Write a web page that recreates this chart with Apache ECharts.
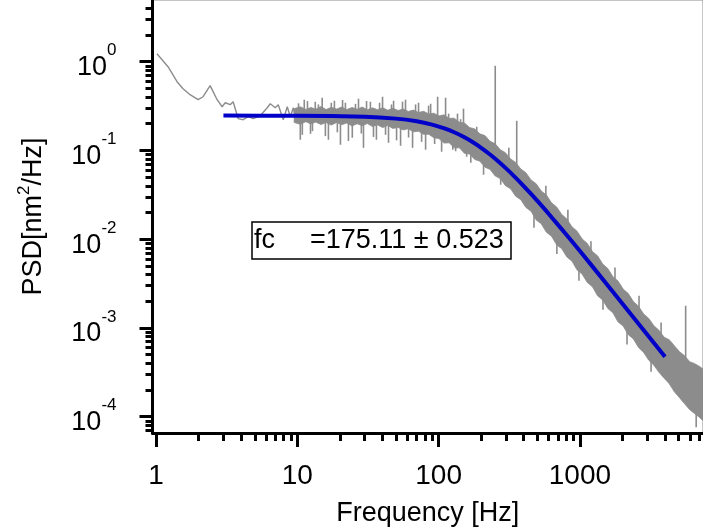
<!DOCTYPE html>
<html>
<head>
<meta charset="utf-8">
<script src="https://cdn.jsdelivr.net/npm/echarts@6/dist/echarts.min.js"></script>
<style>
html,body{margin:0;padding:0;background:#fff;}
#chart{width:703px;height:532px;}
</style>
</head>
<body>
<div id="chart"></div>
<script>
// ---- axis ranges & ticks ----
const X_MIN = 0.9445, X_MAX = 7430;
const Y_MIN = 6.55e-5, Y_MAX = 4.958;
const xMajorTicks = [1, 10, 100, 1000];
const xTickLabels = ['1', '10', '100', '1000'];
const xMinorTicks = [2,3,4,5,6,7,8,9,20,30,40,50,60,70,80,90,200,300,400,500,600,700,800,900,2000,3000,4000,5000,6000,7000];
const yMajorTicks = [1e-4, 1e-3, 1e-2, 1e-1, 1];
const yTickExps = ['-4', '-3', '-2', '-1', '0'];
const yMinorTicks = [7e-5,8e-5,9e-5,2e-4,3e-4,4e-4,5e-4,6e-4,7e-4,8e-4,9e-4,2e-3,3e-3,4e-3,5e-3,6e-3,7e-3,8e-3,9e-3,0.02,0.03,0.04,0.05,0.06,0.07,0.08,0.09,0.2,0.3,0.4,0.5,0.6,0.7,0.8,0.9,2,3,4];

// ---- measured PSD: low-frequency trace ----
const lowFreq = [1.016,1.216,1.409,1.554,1.742,1.986,2.154,2.415,2.495,2.707,2.938,3.087,3.349,3.516,3.816,4.14,4.49,4.875,5.465,6.125,6.435,6.98,7.33,7.96,8.49,8.92,9.37,9.6];
const lowPsd  = [1.23,0.878,0.595,0.496,0.425,0.373,0.403,0.537,0.484,0.373,0.311,0.345,0.328,0.354,0.228,0.222,0.240,0.228,0.246,0.303,0.336,0.303,0.328,0.222,0.311,0.240,0.303,0.25];

// ---- measured PSD: dense noise band (upper / lower envelope) ----
const bandFreq = [9.5,10.5,11.5,12.5,13.5,14.7,16,17.4,19,20.6,22.4,24.4,26.5,28.8,31.3,34,37,40.2,43.7,47.5,51.6,56.1,61,66.3,72,78.3,85.1,92.5,100.5,
  109.2,118.7,129,140.2,152.4,165.7,180.1,195.8,212.8,231.3,251.4,273.3,297,322.9,351,381.5,
  414.7,450.8,490,532.6,579,629.4,684.1,743.6,808.3,878.6,955,1038,1128,1226,1333,1449,1575,1712,1861,2023,2199,2390,2598,2824,3070,3337,3627,3943,
  4286,4658,5064,5504,5983,6503,7069,7430];
const bandUpper = [0.296,0.310,0.290,0.305,0.292,0.312,0.289,0.306,0.293,0.309,0.289,0.305,0.292,0.308,0.287,0.302,0.288,0.303,0.284,0.299,0.282,0.293,0.275,0.285,0.268,0.276,0.258,0.263,0.245,
  0.252,0.230,0.231,0.208,0.204,0.181,0.175,0.154,0.147,0.127,0.119,0.102,0.0943,0.0803,0.0733,0.0619,
  0.0561,0.0466,0.0422,0.0349,0.0315,0.0257,0.0231,0.0190,0.0169,0.01378,0.01229,0.01005,0.00895,0.00726,0.00649,0.00526,0.00467,0.00378,0.00338,0.00274,0.00244,0.00198,0.00176,0.00144,0.00128,0.00106,0.000941,0.000787,
  0.000737,0.000631,0.000540,0.000487,0.000417,0.000395,0.000366,0.000345];
const bandLower = [0.207,0.197,0.211,0.199,0.209,0.196,0.206,0.193,0.207,0.195,0.204,0.189,0.200,0.190,0.201,0.186,0.194,0.181,0.191,0.177,0.182,0.170,0.176,0.162,0.165,0.152,0.152,0.139,0.136,
  0.121,0.122,0.107,0.107,0.0927,0.0912,0.0792,0.0758,0.0648,0.0612,0.0516,0.0482,0.0401,0.0370,0.0305,0.0279,
  0.0228,0.0207,0.0165,0.0149,0.0120,0.0108,0.00866,0.00779,0.00631,0.00566,0.00450,0.00403,0.00325,0.00291,0.00230,0.00206,0.00166,0.00148,0.00117,0.00105,0.00084,0.000752,0.000603,0.000530,0.000433,0.000380,0.000316,0.000272,
  0.000235,0.000191,0.000164,0.000140,0.000120,0.000108,0.0000975,0.0000900];

// ---- measured PSD: individual noise spikes (freq, low, high) ----
const spikeFreq = [10.2,10.5,10.85,11.2,11.8,12.4,12.8,13.4,14.1,15.0,15.8,16.6,17.4,18.3,19.2,20.2,20.9,21.9,23.0,24.5,25.8,27.1,28.4,29.4,30.9,32.9,34.6,36.3,38.2,40.1,42.1,44.2,46.4,48.0,50.4,53.8,55.5,58.3,61.3,65.4,68.7,72.1,75.8,80.9,84.9,87.8,93.7,98.4,105,112,117.7,126,132,136,143,150,158,169,186,208,251.6,275,314,357,394,473,574,687,822,984,1197,1456,1771,2154,2620,3188,3753,5600,6649];
const spikeLow  = [0.245,0.132,0.150,0.25,0.245,0.154,0.165,0.24,0.245,0.24,0.145,0.132,0.244,0.24,0.160,0.116,0.243,0.24,0.128,0.139,0.242,0.24,0.155,0.107,0.240,0.24,0.142,0.132,0.236,0.235,0.150,0.122,0.231,0.23,0.130,0.113,0.225,0.223,0.140,0.107,0.214,0.211,0.125,0.102,0.200,0.197,0.118,0.188,0.0968,0.175,0.170,0.102,0.098,0.154,0.148,0.1425,0.085,0.0728,0.116,0.0533,0.080,0.0411,0.0593,0.048,0.0279,0.0135,0.021,0.0068,0.0107,0.0034,0.0051,0.0016,0.00239,0.00065,0.0011,0.00032,0.00053,0.00045,0.000076];
const spikeHigh = [0.340,0.25,0.246,0.373,0.360,0.25,0.246,0.354,0.330,0.393,0.245,0.24,0.345,0.363,0.244,0.24,0.370,0.345,0.243,0.24,0.335,0.383,0.241,0.24,0.360,0.354,0.238,0.24,0.345,0.403,0.233,0.232,0.330,0.363,0.228,0.226,0.355,0.373,0.220,0.217,0.330,0.345,0.208,0.203,0.320,0.336,0.192,0.403,0.181,0.393,0.260,0.163,0.157,0.260,0.225,0.296,0.136,0.128,0.185,0.101,0.90,0.0712,0.107,0.216,0.041,0.0299,0.040,0.0151,0.0215,0.0075,0.0095,0.00352,0.0048,0.00162,0.0023,0.00074,0.00115,0.00178,0.00012];

// ---- Lorentzian fit ----
const fitFreq = [3,10,30,50,70,90,110,130,150,175,200,230,260,300,350,400,500,600,800,1000,1500,2000,3000,4000];
const fitPsd  = [0.247,0.2462,0.2400,0.2284,0.2130,0.1954,0.1771,0.1592,0.1425,0.1236,0.1072,0.09064,0.07707,0.06277,0.04945,0.03972,0.02699,0.01939,0.01129,0.007348,0.003321,0.001879,0.0008387,0.0004725];

const fitLabel = 'fc';
const fitValueText = '=175.11 ± 0.523';

const FONT = "'Liberation Sans', Arial, Helvetica, sans-serif";
const GRAY = '#8c8c8c';

function idxOf(arr, v) {
  let best = 0, bd = Infinity;
  arr.forEach((t, i) => { const d = Math.abs(Math.log10(t) - Math.log10(v)); if (d < bd) { bd = d; best = i; } });
  return best;
}

const chart = echarts.init(document.getElementById('chart'), null, {renderer: 'canvas'});

const option = {
  animation: false,
  backgroundColor: '#ffffff',
  title: {
    text: '{a|' + fitLabel + '}{b|' + fitValueText + '}',
    left: 252, top: 222,
    padding: [2, 8, 2, 2],
    borderColor: '#000', borderWidth: 1.5,
    textStyle: {
      fontSize: 27, fontWeight: 'normal', color: '#000', fontFamily: FONT, lineHeight: 33,
      rich: {
        a: {fontSize: 27, width: 56, color: '#000', fontFamily: FONT, lineHeight: 33},
        b: {fontSize: 27, color: '#000', fontFamily: FONT, lineHeight: 33}
      }
    }
  },
  grid: {left: 152.5, right: 0, top: 0, bottom: 99, show: true, borderColor: '#8c8c8c', borderWidth: 1, containLabel: false, outerBoundsMode: 'none'},
  xAxis: [
    {
      type: 'log', logBase: 10, min: X_MIN, max: X_MAX, position: 'bottom',
      axisLine: {show: true, onZero: false, lineStyle: {color: '#000', width: 3}},
      axisTick: {show: true, length: 14, lineStyle: {color: '#000', width: 3}, customValues: xMajorTicks},
      axisLabel: {show: true, customValues: xMajorTicks, formatter: v => xTickLabels[idxOf(xMajorTicks, v)], fontSize: 28, color: '#000', fontFamily: FONT, margin: 29},
      splitLine: {show: false}, minorTick: {show: false},
      name: 'Frequency [Hz]', nameLocation: 'middle', nameGap: 67,
      nameTextStyle: {fontSize: 27, color: '#000', fontFamily: FONT}
    },
    {
      type: 'log', logBase: 10, min: X_MIN, max: X_MAX, position: 'bottom',
      axisLine: {show: false},
      axisTick: {show: true, length: 8, lineStyle: {color: '#000', width: 3}, customValues: xMinorTicks},
      axisLabel: {show: false}, splitLine: {show: false}
    }
  ],
  yAxis: [
    {
      type: 'log', logBase: 10, min: Y_MIN, max: Y_MAX, position: 'left',
      axisLine: {show: true, onZero: false, lineStyle: {color: '#000', width: 3}},
      axisTick: {show: true, length: 13, lineStyle: {color: '#000', width: 3}, customValues: yMajorTicks},
      axisLabel: {
        show: true, customValues: yMajorTicks, margin: 36,
        formatter: v => '{b|10}{s|' + yTickExps[idxOf(yMajorTicks, v)] + '}',
        rich: {
          b: {fontSize: 27, color: '#000', fontFamily: FONT, lineHeight: 39, verticalAlign: 'bottom', padding: [3, 0, 0, 0]},
          s: {fontSize: 17, color: '#000', fontFamily: FONT, lineHeight: 17, verticalAlign: 'bottom', padding: [0, 0, 22, 0]}
        }
      },
      splitLine: {show: false}, minorTick: {show: false},
      name: 'PSD[nm{s|2}/Hz]', nameLocation: 'middle', nameGap: 100,
      nameTextStyle: {
        fontSize: 27, color: '#000', fontFamily: FONT, lineHeight: 37, verticalAlign: 'bottom',
        rich: {s: {fontSize: 17, color: '#000', fontFamily: FONT, lineHeight: 17, verticalAlign: 'bottom', padding: [0, 0, 20, 0]}}
      }
    },
    {
      type: 'log', logBase: 10, min: Y_MIN, max: Y_MAX, position: 'left',
      axisLine: {show: false},
      axisTick: {show: true, length: 7, lineStyle: {color: '#000', width: 3}, customValues: yMinorTicks},
      axisLabel: {show: false}, splitLine: {show: false}
    }
  ],
  series: [
    {
      type: 'custom', name: 'band', xAxisIndex: 0, yAxisIndex: 0, clip: true, z: 2,
      data: [[bandFreq[0], bandLower[0]]],
      encode: {x: 0, y: 1},
      renderItem: function (params, api) {
        const pts = [];
        for (let i = 0; i < bandFreq.length; i++) pts.push(api.coord([bandFreq[i], bandUpper[i]]));
        for (let i = bandFreq.length - 1; i >= 0; i--) pts.push(api.coord([bandFreq[i], bandLower[i]]));
        return {type: 'polygon', shape: {points: pts}, style: {fill: GRAY, stroke: GRAY, lineWidth: 0.8}};
      }
    },
    {
      type: 'custom', name: 'spikes', xAxisIndex: 0, yAxisIndex: 0, clip: true, z: 3,
      data: spikeFreq.map((f, i) => [f, spikeLow[i], spikeHigh[i]]),
      encode: {x: 0, y: [1, 2]},
      renderItem: function (params, api) {
        const p1 = api.coord([api.value(0), api.value(1)]);
        const p2 = api.coord([api.value(0), api.value(2)]);
        return {type: 'line', shape: {x1: p1[0], y1: p1[1], x2: p2[0], y2: p2[1]}, style: {stroke: GRAY, lineWidth: 1.6}};
      }
    },
    {
      type: 'line', name: 'low', xAxisIndex: 0, yAxisIndex: 0, z: 3,
      data: lowFreq.map((f, i) => [f, lowPsd[i]]),
      showSymbol: false, symbol: 'none',
      lineStyle: {color: GRAY, width: 1.4}
    },
    {
      type: 'line', name: 'fit', xAxisIndex: 0, yAxisIndex: 0, z: 5,
      data: fitFreq.map((f, i) => [f, fitPsd[i]]),
      showSymbol: false, symbol: 'none', smooth: 0.2,
      lineStyle: {color: '#0000c8', width: 4}
    }
  ]
};
chart.setOption(option);
</script>
</body>
</html>
